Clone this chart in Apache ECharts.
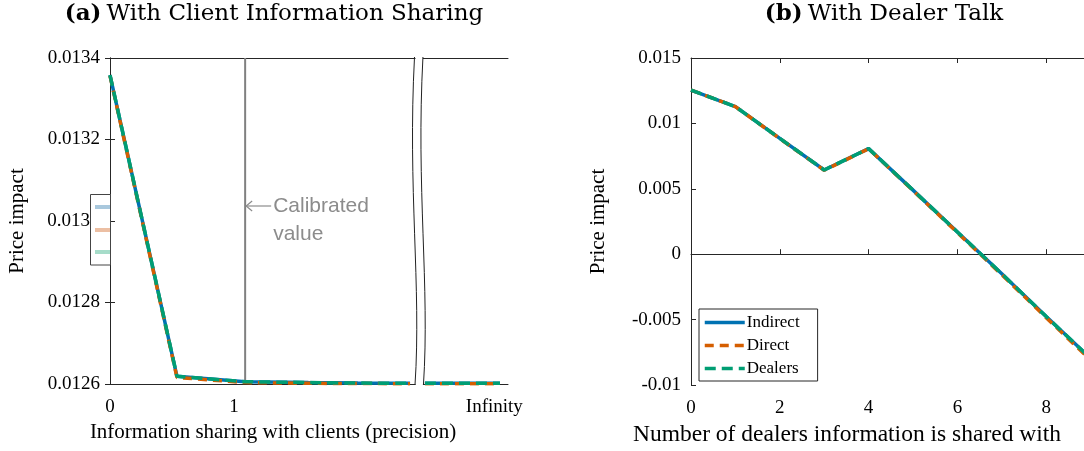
<!DOCTYPE html>
<html><head><meta charset="utf-8">
<script src="https://cdn.jsdelivr.net/npm/echarts@6/dist/echarts.min.js"></script>
<style>html,body{margin:0;padding:0;background:#fff}#c{width:1084px;height:451px}</style>
</head><body><div id="c"></div>
<script>
// ---------- data ----------
const seriesNames = ['Indirect', 'Direct', 'Dealers'];
const seriesColors = ['#0072B2', '#D55E00', '#009E73'];

// Panel (a): information sharing precision (axis units; Infinity drawn after a break)
const aX = [0, 0.54, 1.09, 1.6, 2.0, 2.42, 2.49, 2.54, 3.145];
const aIndirect = [0.013358, 0.012619, 0.0126056, 0.0126035, 0.0126022, 0.0126018, '-', 0.0126018, 0.0126018];
const aDirect   = [0.013356, 0.012616, 0.0126035, 0.0126018, 0.0126010, 0.0126008, '-', 0.0126008, 0.0126008];
const aDealers  = [0.013358, 0.012619, 0.0126056, 0.0126035, 0.0126022, 0.0126018, '-', 0.0126018, 0.0126018];
const aTickValues = [0, 1, 3.1];
const aTickLabels = ['0', '1', 'Infinity'];
const calibratedX = 1.09;
const breakX = [2.456, 2.524];

// Panel (b): number of dealers information is shared with
const bX = [0, 1, 2, 3, 4, 5, 6, 7, 8, 9];
const bIndirect = [0.01255, 0.01128, 0.00885, 0.00644, 0.00807, 0.0049, 0.0017, -0.0015, -0.00477, -0.00796];
const bDirect   = [0.01255, 0.01128, 0.00884, 0.00642, 0.00806, 0.00487, 0.00165, -0.00157, -0.00485, -0.0081];
const bDealers  = [0.01255, 0.01128, 0.00885, 0.00644, 0.00807, 0.0049, 0.0017, -0.0015, -0.00477, -0.00796];

// ---------- chart ----------
const serif = '"Liberation Serif", "DejaVu Serif", serif';
const titleSerif = '"DejaVu Serif", "Liberation Serif", serif';
const axisColor = '#262626';
const chart = echarts.init(document.getElementById('c'));

function pairs(xs, ys) { return xs.map((x, i) => [x, ys[i]]); }
const styles = [
  { width: 3.5, type: 'solid' },
  { width: 3.5, type: [9, 6] },
  { width: 3.5, type: [11, 6] }
];
const aData = [aIndirect, aDirect, aDealers];
const bData = [bIndirect, bDirect, bDealers];

const series = [];
series.push({
  name: 'calibrated', type: 'line', xAxisIndex: 0, yAxisIndex: 0,
  data: [[calibratedX, 0.0126], [calibratedX, 0.0134]],
  symbol: 'none', silent: true, z: 1,
  lineStyle: { color: '#808080', width: 2 }
});
for (let i = 0; i < 3; i++) {
  series.push({
    name: seriesNames[i], type: 'line', xAxisIndex: 0, yAxisIndex: 0,
    data: pairs(aX, aData[i]), symbol: 'none', connectNulls: false,
    color: seriesColors[i], lineStyle: Object.assign({ color: seriesColors[i] }, styles[i]), z: 2 + i
  });
}
for (let i = 0; i < 3; i++) {
  series.push({
    name: seriesNames[i], type: 'line', xAxisIndex: 1, yAxisIndex: 2,
    data: pairs(bX, bData[i]), symbol: 'none',
    color: seriesColors[i], lineStyle: Object.assign({ color: seriesColors[i] }, styles[i]), z: 2 + i
  });
}

const labelFont = { fontFamily: serif, fontSize: 19, color: '#000' };
const titleRich = {
  b: { fontFamily: titleSerif, fontSize: 23, fontWeight: 'bold', color: '#000' },
  n: { fontFamily: titleSerif, fontSize: 23, fontWeight: 'normal', color: '#000' }
};
const fmtY = v => {
  const s = String(parseFloat(v.toFixed(4)));
  return s === '0.013' ? '{s|' + s + '}' : s;
};

chart.setOption({
  animation: false,
  backgroundColor: '#fff',
  title: [
    { text: '{b|(a)} {n|With Client Information Sharing}', left: 271, top: 0, padding: 3, textAlign: 'center',
      textStyle: { fontWeight: 'normal', rich: titleRich } },
    { text: '{b|(b)} {n|With Dealer Talk}', left: 881, top: 0, padding: 3, textAlign: 'center',
      textStyle: { fontWeight: 'normal', rich: titleRich } }
  ],
  legend: {
    data: seriesNames, orient: 'vertical', left: 699, top: 309,
    itemWidth: 40, itemHeight: 14, itemGap: 6,
    padding: [5, 18, 4, 4],
    itemStyle: { color: 'rgba(0,0,0,0)', borderWidth: 0, borderColor: 'rgba(0,0,0,0)' },
    lineStyle: { width: 3.5 },
    borderColor: axisColor, borderWidth: 1, backgroundColor: '#fff',
    textStyle: { fontFamily: serif, fontSize: 17, color: '#000', padding: [0, 0, 0, -3] }
  },
  grid: [
    { left: 110, top: 58, width: 398, height: 326, outerBoundsMode: 'none', containLabel: false },
    { left: 691, top: 58, width: 444, height: 327, outerBoundsMode: 'none', containLabel: false }
  ],
  xAxis: [
    { gridIndex: 0, type: 'value', min: 0, max: 3.21, position: 'bottom',
      name: 'Information sharing with clients (precision)', nameLocation: 'middle', nameGap: 38,
      nameTextStyle: { fontFamily: serif, fontSize: 21, color: '#000', padding: [0, 72, 0, 0] },
      axisLine: { lineStyle: { color: axisColor } }, axisTick: { show: false }, splitLine: { show: false },
      axisLabel: Object.assign({ customValues: aTickValues, margin: 14,
        formatter: v => aTickLabels[aTickValues.indexOf(v)] }, labelFont) },
    { gridIndex: 1, type: 'value', min: 0, max: 10, interval: 2, position: 'bottom',
      name: 'Number of dealers information is shared with', nameLocation: 'middle', nameGap: 37,
      nameTextStyle: { fontFamily: serif, fontSize: 23.5, color: '#000', padding: [0, 132, 0, 0] },
      axisLine: { lineStyle: { color: axisColor } }, axisTick: { inside: true, length: 5, lineStyle: { color: axisColor } },
      splitLine: { show: false }, axisLabel: Object.assign({ margin: 14 }, labelFont) },
    { gridIndex: 0, type: 'value', min: 0, max: 3.21, position: 'top',
      axisLine: { lineStyle: { color: axisColor } }, axisTick: { show: false }, axisLabel: { show: false }, splitLine: { show: false } },
    { gridIndex: 1, type: 'value', min: 0, max: 10, interval: 2, position: 'top',
      axisLine: { lineStyle: { color: axisColor } }, axisTick: { inside: true, length: 5, lineStyle: { color: axisColor } },
      axisLabel: { show: false }, splitLine: { show: false } }
  ],
  yAxis: [
    { gridIndex: 0, type: 'value', min: 0.0126, max: 0.0134, interval: 0.0002, position: 'left',
      name: 'Price impact', nameLocation: 'middle', nameGap: 82,
      nameTextStyle: { fontFamily: serif, fontSize: 21, color: '#000' },
      axisLine: { show: true, lineStyle: { color: axisColor } }, axisTick: { show: true, inside: true, length: 5, lineStyle: { color: axisColor } },
      splitLine: { show: false },
      axisLabel: Object.assign({ margin: 10, formatter: fmtY,
        rich: { s: { fontFamily: serif, fontSize: 19, color: '#000', padding: [0, 10, 0, 0] } } }, labelFont) },
    { gridIndex: 0, type: 'value', min: 0.0126, max: 0.0134, interval: 0.0002, position: 'right',
      axisLine: { show: true, lineStyle: { color: axisColor } }, axisTick: { show: true, inside: true, length: 5, lineStyle: { color: axisColor } },
      axisLabel: { show: false }, splitLine: { show: false } },
    { gridIndex: 1, type: 'value', min: -0.01, max: 0.015, interval: 0.005, position: 'left',
      name: 'Price impact', nameLocation: 'middle', nameGap: 82,
      nameTextStyle: { fontFamily: serif, fontSize: 21, color: '#000' },
      axisLine: { show: true, lineStyle: { color: axisColor } }, axisTick: { show: true, inside: true, length: 5, lineStyle: { color: axisColor } },
      splitLine: { show: false },
      axisLabel: Object.assign({ margin: 10, formatter: v => String(parseFloat(v.toFixed(4))) }, labelFont) }
  ],
  series: series
});

// ---------- annotations: axis break, calibrated label, hidden legend box ----------
const topPx = chart.convertToPixel({ gridIndex: 0 }, [0, 0.0134])[1];
const botPx = chart.convertToPixel({ gridIndex: 0 }, [0, 0.0126])[1];
const calPx = chart.convertToPixel({ gridIndex: 0 }, [calibratedX, 0.013])[0];
const bxPx = breakX.map(v => chart.convertToPixel({ gridIndex: 0 }, [v, 0.013])[0]);
const hPx = botPx - topPx;
function wave(x) {
  return { type: 'bezierCurve', silent: true, z: 100,
    shape: { x1: x, y1: topPx - 1, x2: x + 0.5, y2: botPx + 1, cpx1: x - 7, cpy1: topPx + hPx * 0.4, cpx2: x + 7, cpy2: topPx + hPx * 0.7 },
    style: { stroke: '#222', lineWidth: 1, fill: null } };
}
const grey = '#8c8c8c';
const arrowY = 206;
chart.setOption({
  graphic: [
    { type: 'rect', silent: true, z: 99, shape: { x: bxPx[0] + 1, y: topPx - 2, width: bxPx[1] - bxPx[0] - 1, height: hPx + 4 }, style: { fill: '#fff' } },
    wave(bxPx[0]), wave(bxPx[1]),
    { type: 'line', silent: true, z: 100, shape: { x1: calPx + 1, y1: arrowY, x2: calPx + 26, y2: arrowY }, style: { stroke: grey, lineWidth: 1.2 } },
    { type: 'polyline', silent: true, z: 100, shape: { points: [[calPx + 7, arrowY - 5], [calPx + 1, arrowY], [calPx + 7, arrowY + 5]] }, style: { stroke: grey, lineWidth: 1.2, fill: null } },
    { type: 'text', silent: true, z: 100, style: { text: 'Calibrated', x: calPx + 28, y: 206, verticalAlign: 'middle', fill: grey, font: '21px "Liberation Sans", Arial, sans-serif' } },
    { type: 'text', silent: true, z: 100, style: { text: 'value', x: calPx + 28, y: 234, verticalAlign: 'middle', fill: grey, font: '21px "Liberation Sans", Arial, sans-serif' } },
    // legend box hidden behind left axis
    { type: 'rect', silent: true, z: 50, shape: { x: 90.5, y: 194.5, width: 20, height: 70.5 }, style: { fill: '#fff', stroke: '#444', lineWidth: 1 } },
    { type: 'line', silent: true, z: 51, shape: { x1: 95, y1: 207, x2: 110, y2: 207 }, style: { stroke: '#a9c8dd', lineWidth: 4 } },
    { type: 'line', silent: true, z: 51, shape: { x1: 95, y1: 230, x2: 110, y2: 230 }, style: { stroke: '#ecbfa3', lineWidth: 4 } },
    { type: 'line', silent: true, z: 51, shape: { x1: 95, y1: 252, x2: 110, y2: 252 }, style: { stroke: '#a6dcc9', lineWidth: 4 } }
  ]
});
</script>
</body></html>
